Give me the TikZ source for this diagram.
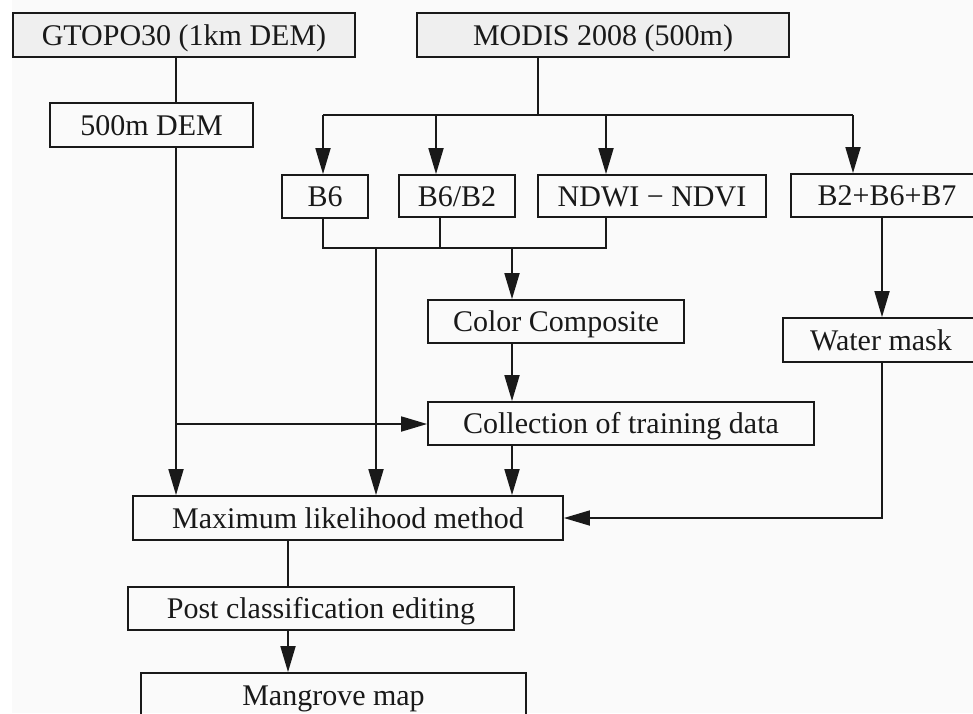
\documentclass[tikz,border=0pt]{standalone}
\usepackage{fontspec}
\setmainfont{Liberation Serif}
\usetikzlibrary{arrows.meta}
\definecolor{bgc}{RGB}{250,250,250}
\definecolor{topfill}{RGB}{239,239,239}
\definecolor{ink}{RGB}{25,25,25}
\tikzset{
  box/.style={draw=ink, line width=1.8pt, inner sep=0pt, text=ink,
    font=\fontsize{30}{36}\selectfont, text height=24pt, text depth=4pt},
  topbox/.style={box, fill=topfill},
  link/.style={draw=ink, line width=1.8pt},
  arr/.style={link, -{Triangle[length=26pt,width=15pt]}}
}
\begin{document}
\begin{tikzpicture}[x=1pt,y=-1pt]
\useasboundingbox (0,0) rectangle (973,713);
\fill[white] (0,0) rectangle (973,713);
\fill[bgc] (12,0) rectangle (973,713);
\begin{scope}
\clip (0,0) rectangle (973,713);
% nodes
\node[topbox, minimum width=342pt, minimum height=44pt] (gtopo) at (184,35) {GTOPO30 (1km DEM)};
\node[topbox, minimum width=372pt, minimum height=44pt] (modis) at (603,35) {MODIS 2008 (500m)};
\node[box, minimum width=203pt, minimum height=44pt] (dem) at (151.5,125) {500m DEM};
\node[box, minimum width=86pt, minimum height=43pt] (b6) at (325,196.5) {B6};
\node[box, minimum width=116pt, minimum height=42pt] (b6b2) at (457,196) {B6/B2};
\node[box, minimum width=228pt, minimum height=42pt] (ndwi) at (652,196) {NDWI − NDVI};
\node[box, minimum width=192pt, minimum height=43pt] (b267) at (887,195.5) {B2+B6+B7};
\node[box, minimum width=196pt, minimum height=44pt] (wm) at (881,340) {Water mask};
\node[box, minimum width=256pt, minimum height=43pt] (cc) at (556,321.5) {Color Composite};
\node[box, minimum width=386pt, minimum height=43pt] (coll) at (621,423.5) {Collection of training data};
\node[box, minimum width=430pt, minimum height=44pt] (ml) at (348,518) {Maximum likelihood method};
\node[box, minimum width=386pt, minimum height=43pt] (post) at (321,608.5) {Post classification editing};
\node[box, minimum width=385pt, minimum height=44pt] (mang) at (333.5,695) {Mangrove map};
% helper coordinates
\coordinate (xg) at (176,0);
\coordinate (mj) at (538,115);
\coordinate (x1) at (323,0);
\coordinate (x2) at (436,0);
\coordinate (x3) at (606,0);
\coordinate (x4) at (853,0);
\coordinate (y1) at (0,248);
\coordinate (x5) at (440,0);
\coordinate (x6) at (376,0);
\coordinate (x7) at (512,0);
\coordinate (x8) at (882,0);
\coordinate (x9) at (288,0);
\coordinate (yc) at (0,424);
% connectors
\draw[link] (xg |- gtopo.south) -- (xg |- dem.north);
\draw[arr] (xg |- dem.south) -- (xg |- ml.north);
\draw[arr] (xg |- yc) -- (coll.west |- yc);
\draw[link] (mj |- modis.south) -- (mj);
\draw[link] (x1 |- mj) -- (x4 |- mj);
\draw[arr] (x1 |- mj) -- (x1 |- b6.north);
\draw[arr] (x2 |- mj) -- (x2 |- b6b2.north);
\draw[arr] (x3 |- mj) -- (x3 |- ndwi.north);
\draw[arr] (x4 |- mj) -- (x4 |- b267.north);
\draw[link] (x1 |- b6.south) -- (x1 |- y1) -- (x3 |- y1) -- (x3 |- ndwi.south);
\draw[link] (x5 |- b6b2.south) -- (x5 |- y1);
\draw[arr] (x6 |- y1) -- (x6 |- ml.north);
\draw[arr] (x7 |- y1) -- (x7 |- cc.north);
\draw[arr] (x7 |- cc.south) -- (x7 |- coll.north);
\draw[arr] (x7 |- coll.south) -- (x7 |- ml.north);
\draw[arr] (x8 |- b267.south) -- (x8 |- wm.north);
\draw[arr] (x8 |- wm.south) -- (x8 |- ml.east) -- (ml.east);
\draw[link] (x9 |- ml.south) -- (x9 |- post.north);
\draw[arr] (x9 |- post.south) -- (x9 |- mang.north);
\end{scope}
\end{tikzpicture}
\end{document}
